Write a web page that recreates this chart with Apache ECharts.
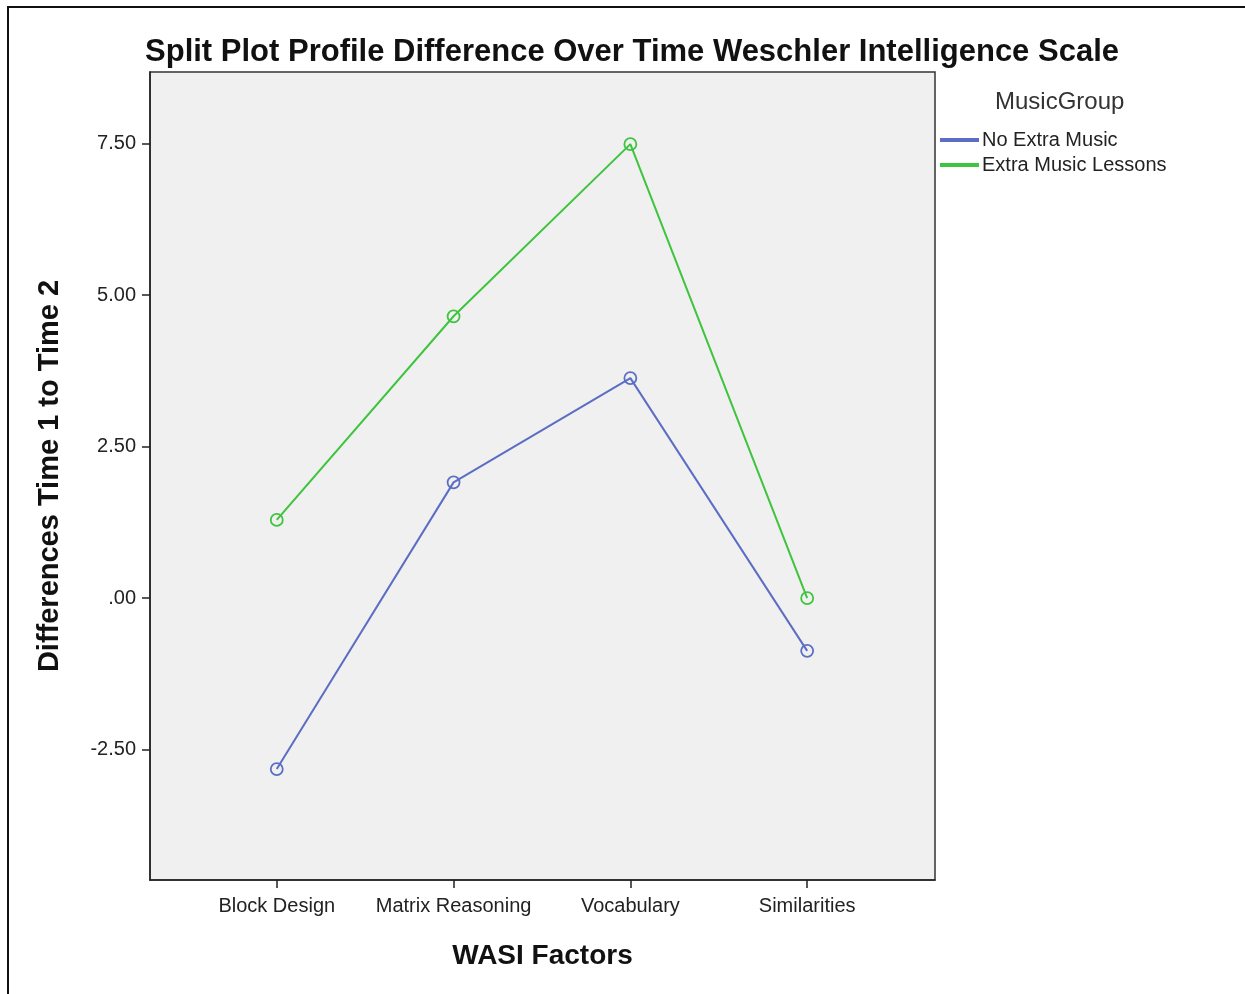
<!DOCTYPE html>
<html>
<head>
<meta charset="utf-8">
<script src="https://cdn.jsdelivr.net/npm/echarts@6/dist/echarts.min.js"></script>
<style>
html,body{margin:0;padding:0;background:#fff;}
#frame{position:absolute;left:7px;top:6px;width:1245px;height:994px;border-top:2px solid #111;border-left:2px solid #111;}
#main{position:absolute;left:0;top:0;width:1245px;height:994px;}
</style>
</head>
<body>
<div id="frame"></div>
<div id="main"></div>
<script>
// categories and values
var factors=["Block Design","Matrix Reasoning","Vocabulary","Similarities"];
var noExtra=[-2.82,1.91,3.63,-0.87];
var extraLessons=[1.29,4.65,7.49,0.0];
var yTicks=[-2.5,0,2.5,5,7.5];
var groupNames=["No Extra Music","Extra Music Lessons"];
var blue="#5b6ec4", green="#3ec43e";

function pairs(arr)
{
    var out=[];
    for(var i=0;i<arr.length;i++) out.push([i+1,arr[i]]);
    return out;
}
function fmt(v)
{
    var s=v.toFixed(2);
    if(s.indexOf("0.")==0) s=s.substring(1);
    return s;
}

var chart=echarts.init(document.getElementById('main'));
var font='"Liberation Sans", Arial, sans-serif';

var option={
    backgroundColor:'transparent',
    title:[{
        text:'Split Plot Profile Difference Over Time Weschler Intelligence Scale',
        left:627, top:32, textAlign:'center',
        textStyle:{fontFamily:font,fontSize:31,fontWeight:'bold',color:'#111'}
    },{
        text:'MusicGroup',
        left:990, top:85,
        textStyle:{fontFamily:font,fontSize:24,fontWeight:'normal',color:'#333'}
    }],
    legend:{
        orient:'vertical', left:935, top:125,
        icon:'rect', itemWidth:37, itemHeight:2, itemGap:5,
        textStyle:{fontFamily:font,fontSize:20,color:'#222',padding:[0,0,0,-1]},
        data:[{name:groupNames[0],itemStyle:{color:blue}},{name:groupNames[1],itemStyle:{color:green}}]
    },
    grid:{
        left:150, top:72, width:785, height:808,
        show:true, backgroundColor:'#f0f0f0', borderColor:'#333', borderWidth:1.5
    },
    xAxis:{
        type:'value', min:0.283, max:4.723,
        name:'WASI Factors', nameLocation:'middle', nameGap:62,
        nameTextStyle:{fontFamily:font,fontSize:28,fontWeight:'bold',color:'#111'},
        axisLine:{show:true,onZero:false,lineStyle:{color:'#222',width:1.5}},
        axisTick:{show:true,length:8,customValues:[1,2,3,4],lineStyle:{color:'#222',width:1.5}},
        axisLabel:{customValues:[1,2,3,4],margin:16,fontFamily:font,fontSize:20,color:'#222',
            formatter:function(v){return factors[Math.round(v)-1]||'';}},
        splitLine:{show:false}
    },
    yAxis:{
        type:'value', min:-4.65, max:8.68,
        name:'Differences Time 1 to Time 2', nameLocation:'middle', nameGap:86,
        nameTextStyle:{fontFamily:font,fontSize:29,fontWeight:'bold',color:'#111'},
        axisLine:{show:true,onZero:false,lineStyle:{color:'#222',width:1.5}},
        axisTick:{show:true,length:8,customValues:yTicks,lineStyle:{color:'#222',width:1.5}},
        axisLabel:{customValues:yTicks,margin:14,fontFamily:font,fontSize:20,color:'#222',
            formatter:function(v){return fmt(v);}},
        splitLine:{show:false}
    },
    series:[{
        name:groupNames[0], type:'line', data:pairs(noExtra),
        color:blue, symbol:'circle', symbolSize:12,
        lineStyle:{color:blue,width:2},
        itemStyle:{color:'rgba(0,0,0,0)',borderColor:blue,borderWidth:1.8}
    },{
        name:groupNames[1], type:'line', data:pairs(extraLessons),
        color:green, symbol:'circle', symbolSize:12,
        lineStyle:{color:green,width:2},
        itemStyle:{color:'rgba(0,0,0,0)',borderColor:green,borderWidth:1.8}
    }]
};
chart.setOption(option);
</script>
</body>
</html>
